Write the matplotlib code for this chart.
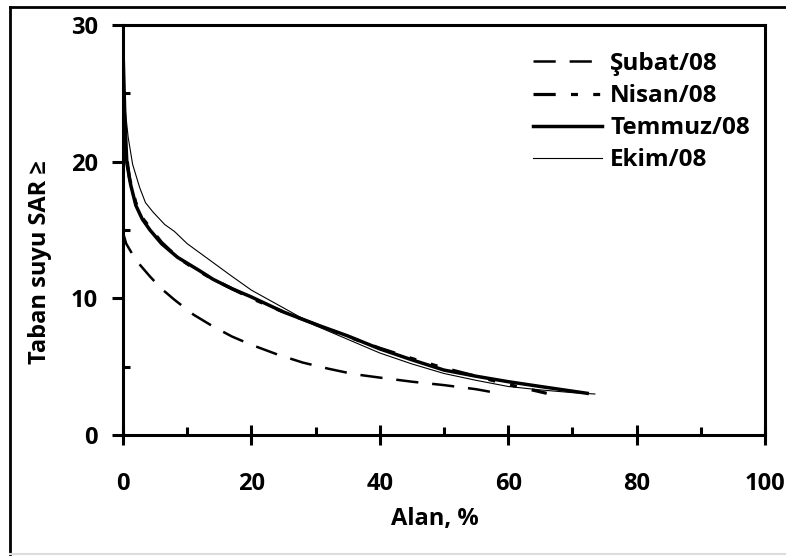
import matplotlib
matplotlib.use('Agg')
import matplotlib.pyplot as plt
from matplotlib.lines import Line2D

plt.rcParams['font.family'] = ['Open Sans', 'DejaVu Sans']
plt.rcParams['font.weight'] = 'bold'
plt.rcParams['lines.scale_dashes'] = False

# cumulative area (%) vs. groundwater SAR
x_subat = [0, 0.5, 2, 4.2, 6, 8, 11, 14, 17, 20, 24, 28, 32, 36, 40, 45, 50, 55, 58.5]
y_subat = [14.8, 14.0, 12.8, 11.6, 10.7, 9.9, 8.8, 7.95, 7.2, 6.6, 5.9, 5.3, 4.85, 4.45, 4.2, 3.9, 3.65, 3.35, 3.05]

x_nisan = [0, 0.4, 1, 2, 3, 4.5, 6, 8.5, 11, 14, 17, 20, 25, 30, 35, 40, 45, 50, 55, 60, 66]
y_nisan = [26, 21, 18.8, 17.0, 15.9, 15.0, 14.1, 13.0, 12.2, 11.4, 10.7, 10.0, 9.0, 8.1, 7.2, 6.35, 5.6, 4.9, 4.3, 3.7, 3.05]

x_temmuz = [0, 0.3, 0.6, 1.2, 2, 3, 4.2, 6, 8.5, 12, 14, 17, 20, 25, 30, 35, 40, 45, 50, 55, 60, 65, 72.3]
y_temmuz = [28.2, 23, 19.9, 18.3, 16.8, 15.8, 15.0, 14.0, 13.0, 12.0, 11.4, 10.7, 10.1, 9.0, 8.1, 7.25, 6.3, 5.5, 4.75, 4.3, 3.9, 3.55, 3.05]

x_ekim = [0, 0.3, 0.8, 1.5, 2.6, 3.5, 4.7, 6.5, 8, 10, 13.5, 16.7, 20, 25, 30, 35, 40, 45, 50, 55, 60, 65, 70, 73.5]
y_ekim = [28.5, 24, 21.8, 19.8, 18.1, 17.0, 16.3, 15.4, 14.9, 14.0, 12.8, 11.7, 10.6, 9.3, 8.0, 7.0, 6.0, 5.2, 4.5, 4.0, 3.55, 3.3, 3.1, 3.0]

labels = ['Şubat/08', 'Nisan/08', 'Temmuz/08', 'Ekim/08']

fig = plt.figure(figsize=(7.86, 5.57), dpi=100)
ax = fig.add_axes([123/786, 1 - 435/557, (765 - 123)/786, (435 - 25)/557])

ax.plot(x_subat, y_subat, color='black', lw=1.8, dashes=(16, 10), label=labels[0])
ax.plot(x_nisan, y_nisan, color='black', lw=2.3, dashes=(16, 11, 5, 11, 5, 11), label=labels[1])
ax.plot(x_temmuz, y_temmuz, color='black', lw=2.5, label=labels[2])
ax.plot(x_ekim, y_ekim, color='black', lw=0.8, label=labels[3])

ax.set_xlim(0, 100)
ax.set_ylim(0, 30)
ax.set_xticks([0, 20, 40, 60, 80, 100])
ax.set_xticks([10, 30, 50, 70, 90], minor=True)
ax.set_yticks([0, 10, 20, 30])
ax.set_yticks([5, 15, 25], minor=True)

for s in ax.spines.values():
    s.set_linewidth(2.2)
ax.tick_params(axis='x', which='major', direction='inout', length=14, width=2.2, pad=20, labelsize=17)
ax.tick_params(axis='x', which='minor', direction='in', length=6, width=2.2)
ax.tick_params(axis='y', which='major', direction='out', length=8, width=2.2, pad=10, labelsize=17)
ax.tick_params(axis='y', which='minor', direction='in', length=5, width=2.2)
for t in ax.get_xticklabels() + ax.get_yticklabels():
    t.set_fontweight('bold')

ax.set_xlabel('Alan, %', fontsize=17, fontweight='bold', va='top')
ax.set_ylabel('Taban suyu SAR ≥', fontsize=17, fontweight='bold', va='center')
ax.xaxis.set_label_coords(0.486, -0.175)
ax.yaxis.set_label_coords(-0.129, 0.422)

ax.legend(loc='upper left', bbox_to_anchor=(533/786, 1 - 52/557), bbox_transform=fig.transFigure,
          frameon=False, prop={'size': 17.5, 'weight': 'bold'}, handlelength=2.85, handletextpad=0.33,
          labelspacing=0.33, borderpad=0, borderaxespad=0)

# outer frame of the picture
fig.add_artist(Line2D([10/786, 10/786], [1 - 7/557, 1 - 554/557], color='black', lw=2))
fig.add_artist(Line2D([10/786, 1], [1 - 7/557, 1 - 7/557], color='black', lw=2))
fig.add_artist(Line2D([10/786, 1], [1 - 554/557, 1 - 554/557], color='#dddddd', lw=1.5))

fig.savefig('out.png', dpi=100)
